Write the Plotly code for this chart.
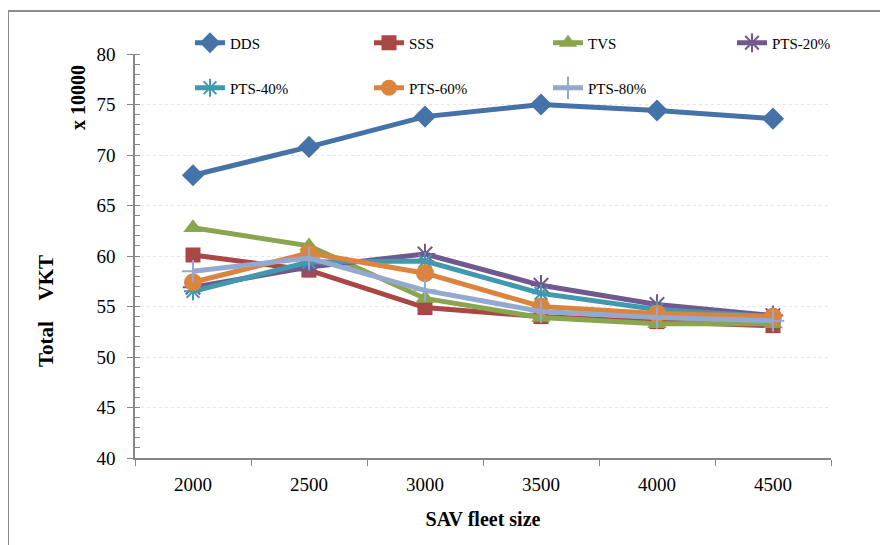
import plotly.graph_objects as go

fleet_sizes = ["2000", "2500", "3000", "3500", "4000", "4500"]
dds = [68.0, 70.8, 73.8, 75.0, 74.4, 73.6]
sss = [60.1, 58.6, 54.9, 54.0, 53.5, 53.1]
tvs = [62.8, 61.0, 55.8, 53.9, 53.3, 53.3]
pts20 = [56.9, 58.9, 60.2, 57.1, 55.2, 54.1]
pts40 = [56.5, 59.4, 59.5, 56.3, 54.7, 54.0]
pts60 = [57.4, 60.3, 58.3, 55.0, 54.3, 54.0]
pts80 = [58.5, 59.8, 56.6, 54.5, 53.9, 53.6]
y_ticks = [40, 45, 50, 55, 60, 65, 70, 75, 80]

FONT = "Liberation Serif"

series = [
    ("DDS", dds, "#4572A7", "diamond", 17, "legend"),
    ("SSS", sss, "#AA4643", "square", 15, "legend"),
    ("TVS", tvs, "#89A54E", "triangle-up", 17, "legend"),
    ("PTS-20%", pts20, "#71588F", "asterisk-open", 17, "legend3"),
    ("PTS-40%", pts40, "#4198AF", "asterisk-open", 15, "legend2"),
    ("PTS-60%", pts60, "#DB843D", "circle", 18, "legend2"),
    ("PTS-80%", pts80, "#93A9CF", "cross-thin-open", 16, "legend2"),
]

fig = go.Figure()
for name, vals, color, sym, size, leg in series:
    thin = sym.endswith("-open")
    fig.add_trace(go.Scatter(
        x=fleet_sizes, y=vals, name=name, mode="lines+markers",
        line=dict(color=color, width=5),
        marker=dict(symbol=sym, size=size, color=color,
                    line=dict(color=color, width=2 if thin else 0)),
        legend=leg,
    ))

# page body has an 8px offset; plot area target: x 135..831, y 54..458 (screen)
L, T, R, B = 127, 46, 823, 450
PW, PH = R - L, B - T

def px(x):
    return (x - 8 - L) / PW

def py(y):
    return (B - (y - 8)) / PH

def leg(x, y, w=134):
    return dict(orientation="h", x=px(x), xanchor="left", y=py(y), yanchor="middle",
                entrywidth=w, entrywidthmode="pixels", bgcolor="rgba(0,0,0,0)",
                font=dict(family=FONT, size=15, color="black"))

axis_col = "#868686"
fig.update_layout(
    width=888, height=545,
    margin=dict(l=L, r=888 - R, t=T, b=545 - B, autoexpand=False),
    paper_bgcolor="white", plot_bgcolor="white",
    font=dict(family=FONT, color="black"),
    showlegend=True,
    legend=leg(190, 43),
    legend2=leg(190, 88),
    legend3=leg(732, 43, 60),
    xaxis=dict(
        type="category", range=[-0.5, 5.5], tickson="boundaries",
        ticks="outside", ticklen=6, tickcolor=axis_col,
        showline=True, linecolor=axis_col, linewidth=1.5,
        showgrid=False, zeroline=False,
        tickfont=dict(family=FONT, size=19, color="black"),
        ticklabelstandoff=8,
        title=dict(text="<b>SAV fleet size</b>", font=dict(family=FONT, size=20, color="black"), standoff=18),
    ),
    yaxis=dict(
        range=[40, 80], tickvals=y_ticks,
        ticks="outside", ticklen=6, tickcolor=axis_col,
        showline=True, linecolor=axis_col, linewidth=1.5,
        showgrid=True, gridcolor="#E6E6E6", griddash="dot", gridwidth=1,
        zeroline=False,
        minor=dict(dtick=1, ticks="inside", ticklen=5, tickcolor=axis_col, showgrid=False),
        tickfont=dict(family=FONT, size=19, color="black"),
        ticklabelstandoff=8,
    ),
    annotations=[
        dict(text="<b>Total&nbsp;&nbsp;&nbsp; VKT</b>", xref="paper", yref="paper",
             x=px(46), y=py(311), xanchor="center", yanchor="middle", textangle=-90,
             showarrow=False, font=dict(family=FONT, size=21, color="black")),
        dict(text="<b>x 10000</b>", xref="paper", yref="paper",
             x=px(78), y=py(98), xanchor="center", yanchor="middle", textangle=-90,
             showarrow=False, font=dict(family=FONT, size=20, color="black")),
    ],
    shapes=[
        dict(type="line", xref="paper", yref="paper",
             x0=px(8), x1=px(8), y0=py(600), y1=py(11),
             line=dict(color="#8C8C8C", width=2)),
        dict(type="line", xref="paper", yref="paper",
             x0=px(8), x1=px(950), y0=py(11), y1=py(11),
             line=dict(color="#8C8C8C", width=2)),
    ],
)

fig.write_html("out.html")
